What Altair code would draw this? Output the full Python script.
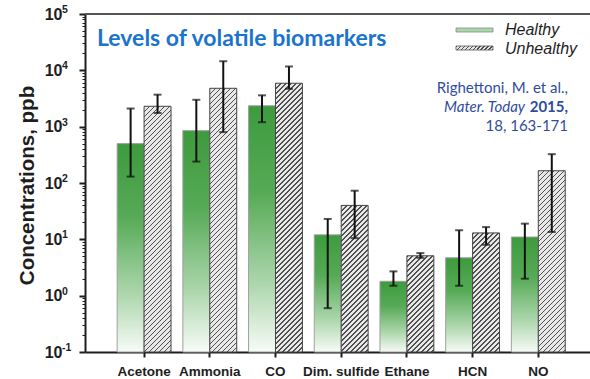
import math
import altair as alt
import pandas as pd

# Breath biomarker concentrations (ppb): mean with lower/upper error limits
categories = ["Acetone", "Ammonia", "CO", "Dim. sulfide", "Ethane", "HCN", "NO"]
healthy = [500, 850, 2350, 12, 1.8, 4.7, 11]
healthy_lo = [130, 240, 1200, 0.6, 1.5, 1.5, 2.0]
healthy_hi = [2100, 3000, 3600, 23, 2.7, 14.5, 19]
unhealthy = [2300, 4800, 5900, 40, 5.1, 13, 165]
unhealthy_lo = [1750, 800, 4700, 10.5, 4.7, 8.0, 13.5]
unhealthy_hi = [3700, 14500, 11700, 73, 5.7, 16.5, 325]
groups = ["Healthy", "Unhealthy"]
decades = [-1, 0, 1, 2, 3, 4, 5]

# plot geometry
W, H = 505, 338
Y_MIN, Y_MAX = 0.1, 1e5
PAD_INNER, PAD_OUTER, ALIGN = 0.18, 0.433, 0.565

rows = []
for i, c in enumerate(categories):
    rows.append(dict(category=c, group="Healthy", value=healthy[i],
                     lo=healthy_lo[i], hi=healthy_hi[i], base=Y_MIN))
    rows.append(dict(category=c, group="Unhealthy", value=unhealthy[i],
                     lo=unhealthy_lo[i], hi=unhealthy_hi[i], base=Y_MIN))
df = pd.DataFrame(rows)

major_ticks = [10.0 ** d for d in decades]
minor_ticks = [m * 10.0 ** d for d in decades[:-1] for m in range(2, 10)]
tick_values = sorted(major_ticks + minor_ticks)
is_major = "abs(log(datum.value)/LN10 - round(log(datum.value)/LN10)) < 0.001"

FONT = "Liberation Sans"
INK = "#1e1e1e"

y_scale = alt.Scale(type="log", domain=[Y_MIN, Y_MAX], nice=False)
y_axis = alt.Axis(
    title="Concentrations, ppb", values=tick_values, grid=False,
    labelExpr=f"({is_major}) ? '10' : ''",
    labelFont=FONT, labelFontWeight="bold", labelFontSize=16, labelColor=INK,
    labelPadding=17, labelBaseline="middle",
    tickColor=INK, domainColor=INK, domainWidth=2,
    tickSize={"condition": {"test": is_major, "value": 6}, "value": 3},
    tickWidth={"condition": {"test": is_major, "value": 2}, "value": 1},
    titleFont=FONT, titleFontWeight="bold", titleFontSize=20.5, titleColor=INK,
    titleAngle=-90, titleX=-52, titleY=171, titleAlign="center",
    titleBaseline="alphabetic",
)
x_axis = alt.Axis(
    title=None, labelAngle=0, labelFont=FONT, labelFontWeight="bold",
    labelFontSize=13.5, labelColor=INK, labelPadding=7,
    tickSize=5, tickWidth=2, tickColor=INK, domainColor=INK, domainWidth=2,
)

x_enc = alt.X("category:N", sort=categories, axis=x_axis,
              scale=alt.Scale(paddingInner=PAD_INNER, paddingOuter=PAD_OUTER,
                              align=ALIGN))
xo_enc = alt.XOffset("group:N", sort=groups,
                     scale=alt.Scale(paddingInner=0, paddingOuter=0))

base = alt.Chart(df).encode(x=x_enc, xOffset=xo_enc)

# green bars fade from dark at the top to white at the baseline
green = alt.Gradient(
    gradient="linear", x1=0, y1=0, x2=0, y2=1,
    stops=[alt.GradientStop(offset=0, color="#3d9b3d"),
           alt.GradientStop(offset=0.35, color="#56aa56"),
           alt.GradientStop(offset=0.72, color="#acd6ac"),
           alt.GradientStop(offset=1, color="#f7fbf7")],
)
healthy_bars = base.transform_filter(alt.datum.group == "Healthy").mark_bar(
    fill=green, stroke="#a0a0a0", strokeWidth=1
).encode(y=alt.Y("value:Q", scale=y_scale, axis=y_axis), y2="base:Q")


def hatch(w, h, period=5.0, ink=0.3, dark="#505050", light="#e8e8e8"):
    """Diagonal '/' hatching as a hard-stop linear gradient in bbox units."""
    n = (w + h) / period
    k = (w + h) / (w * w + h * h)
    stops = []
    j = 0
    while j < n:
        a = j / n
        b = min((j + ink) / n, 1)
        c = min((j + 1) / n, 1)
        stops += [alt.GradientStop(offset=a, color=dark),
                  alt.GradientStop(offset=b, color=dark),
                  alt.GradientStop(offset=b, color=light),
                  alt.GradientStop(offset=c, color=light)]
        j += 1
    return alt.Gradient(gradient="linear", x1=0, y1=0, x2=k * w, y2=k * h,
                        stops=stops)


step = W / (len(categories) - PAD_INNER + 2 * PAD_OUTER)
bar_w = step * (1 - PAD_INNER) / 2


def px_height(v):
    return (math.log10(v) - math.log10(Y_MIN)) / (math.log10(Y_MAX) - math.log10(Y_MIN)) * H


hatched = []
for i, c in enumerate(categories):
    hatched.append(
        base.transform_filter((alt.datum.group == "Unhealthy") & (alt.datum.category == c))
        .mark_bar(fill=hatch(bar_w, px_height(unhealthy[i])), stroke="#444444",
                  strokeWidth=1)
        .encode(y=alt.Y("value:Q", scale=y_scale, axis=y_axis), y2="base:Q")
    )

err = base.mark_rule(color="#111111", strokeWidth=2).encode(
    y=alt.Y("lo:Q", scale=y_scale, axis=y_axis), y2="hi:Q")
cap_lo = base.mark_tick(color="#111111", size=8, thickness=2).encode(
    y=alt.Y("lo:Q", scale=y_scale, axis=y_axis))
cap_hi = base.mark_tick(color="#111111", size=8, thickness=2).encode(
    y=alt.Y("hi:Q", scale=y_scale, axis=y_axis))

# superscript exponents next to the "10" tick labels
exp_df = pd.DataFrame({"v": major_ticks, "e": [str(d) for d in decades]})
exponents = alt.Chart(exp_df).mark_text(
    font=FONT, fontWeight="bold", fontSize=10.5, color=INK, align="left",
    baseline="middle", dy=-4
).encode(x=alt.value(-23), y=alt.Y("v:Q", scale=y_scale, axis=y_axis), text="e:N")

# top frame line
frame = alt.Chart(pd.DataFrame({"k": [0]})).mark_rule(
    color="#555555", strokeWidth=2
).encode(x=alt.value(0), x2=alt.value(W), y=alt.value(0))

title = alt.Chart(pd.DataFrame({"t": ["Levels of volatile biomarkers"]})).mark_text(
    font="Lato", fontWeight="bold", fontSize=23, color="#1a74cc", align="left",
    baseline="alphabetic"
).encode(x=alt.value(12), y=alt.value(32), text="t:N")

# legend
legend_text = alt.Chart(pd.DataFrame({"t": groups, "yy": [21, 39.5]})).mark_text(
    font=FONT, fontStyle="italic", fontSize=16, color=INK, align="left",
    baseline="alphabetic"
).encode(x=alt.value(420), y=alt.Y("yy:Q", scale=None), text="t:N")
sw_h = alt.Chart(pd.DataFrame({"k": [0]})).mark_rect(
    fill="#a9d8a9", stroke="#8a8a8a", strokeWidth=0.8
).encode(x=alt.value(371), x2=alt.value(408), y=alt.value(14), y2=alt.value(18))
sw_u = alt.Chart(pd.DataFrame({"k": [0]})).mark_rect(
    fill=hatch(37, 4, period=4.0), stroke="#555555", strokeWidth=0.8
).encode(x=alt.value(371), x2=alt.value(408), y=alt.value(32), y2=alt.value(36))

# reference note
CITE = "#2f4c9e"
cite_font = "Lato"
cite1 = alt.Chart(pd.DataFrame({"t": ["Righettoni, M. et al.,", "18, 163-171"],
                                "yy": [79, 116.5]})).mark_text(
    font=cite_font, fontSize=15, color=CITE, align="right", baseline="alphabetic"
).encode(x=alt.value(483), y=alt.Y("yy:Q", scale=None), text="t:N")
cite2a = alt.Chart(pd.DataFrame({"t": ["Mater. Today"]})).mark_text(
    font=cite_font, fontSize=15, fontStyle="italic", color=CITE, align="right",
    baseline="alphabetic"
).encode(x=alt.value(440), y=alt.value(97.7), text="t:N")
cite2b = alt.Chart(pd.DataFrame({"t": ["2015,"]})).mark_text(
    font=cite_font, fontSize=15, fontWeight="bold", color=CITE, align="right",
    baseline="alphabetic"
).encode(x=alt.value(483), y=alt.value(97.7), text="t:N")

chart = alt.layer(
    healthy_bars, *hatched, err, cap_lo, cap_hi, exponents, frame, title,
    legend_text, sw_h, sw_u, cite1, cite2a, cite2b
).properties(
    width=W, height=H, autosize="none",
    padding={"left": 85, "top": 14, "right": 0, "bottom": 27},
).configure_view(stroke=None).configure(background="white")

chart.save("out.html", embed_options={"renderer": "svg", "actions": False})
